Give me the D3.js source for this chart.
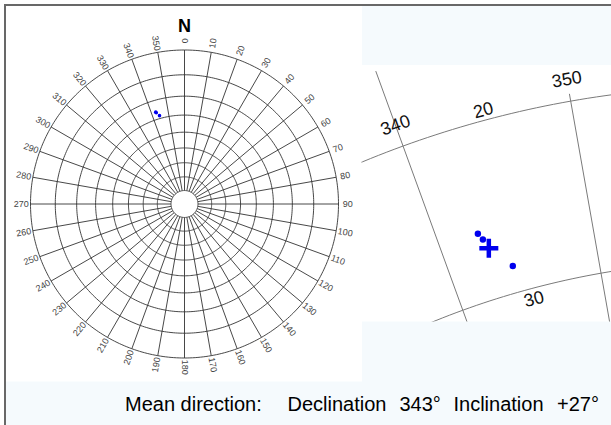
<!DOCTYPE html>
<html>
<head>
<meta charset="utf-8">
<script src="https://cdn.jsdelivr.net/npm/d3@7"></script>
<style>
  html, body { margin: 0; padding: 0; background: #fff; }
  svg { display: block; font-family: Arial, "Liberation Sans", sans-serif; }
</style>
</head>
<body>
<svg id="chart" width="611" height="425"></svg>
<script>
// Site directions (declination / inclination, degrees)
const declinations = [342.6, 342.8, 344.2];
const inclinations = [26.0, 26.4, 28.4];
const meanDeclination = 343;
const meanInclination = 27;

// Stereonet graticule
const gridDeclinations = d3.range(0, 360, 10);
const gridInclinations = d3.range(0, 90, 10);

// Enlarged view graticule
const zoomDeclinations = [340, 350];
const zoomDeclinationStart = [15.8, 19.6];
const zoomInclinations = [20, 30];

const summaryParts = ["Mean direction:", "Declination", "343\u00b0", "Inclination", "+27\u00b0"];

const rad = Math.PI / 180;
// Stereographic (Wulff) projection of a direction onto the unit disc, north up
function plane(dec, inc) {
  const r = Math.tan((90 - inc) / 2 * rad);
  return [r * Math.sin(dec * rad), -r * Math.cos(dec * rad)];
}

const svg = d3.select("#chart");
const blue = "#0000ee";

// backgrounds and frame
svg.append("rect").attr("x", 0).attr("y", 0).attr("width", 611).attr("height", 425).attr("fill", "#fff");
svg.append("rect").attr("x", 6).attr("y", 6).attr("width", 605).attr("height", 419).attr("fill", "#f5fafd");
svg.append("rect").attr("x", 6).attr("y", 6).attr("width", 356).attr("height", 375.5).attr("fill", "#fff");
svg.append("rect").attr("x", 362).attr("y", 65).attr("width", 249).attr("height", 256.5).attr("fill", "#fff");
svg.append("path").attr("d", "M5,425V5H611").attr("fill", "none").attr("stroke", "#686868").attr("stroke-width", 2);

// ---------- full stereonet ----------
const xL = d3.scaleLinear().domain([-1, 1]).range([30.5, 338.5]);
const yL = d3.scaleLinear().domain([-1, 1]).range([50, 358]);
const lineL = d3.line().x(d => xL(d[0])).y(d => yL(d[1]));

const net = svg.append("g");
net.selectAll("path.circle").data(gridInclinations).join("path")
  .attr("class", "circle")
  .attr("d", inc => lineL(d3.range(0, 361, 1).map(dec => plane(dec, inc))))
  .attr("fill", "none").attr("stroke", "#333").attr("stroke-width", 0.9);
net.selectAll("path.spoke").data(gridDeclinations).join("path")
  .attr("class", "spoke")
  .attr("d", dec => lineL([plane(dec, d3.max(gridInclinations)), plane(dec, 0)]))
  .attr("fill", "none").attr("stroke", "#333").attr("stroke-width", 0.9);

net.selectAll("text.tick").data(gridDeclinations).join("text")
  .attr("class", "tick")
  .attr("transform", dec => {
    const k = 1.06;
    const px = xL(k * Math.sin(dec * rad)), py = yL(-k * Math.cos(dec * rad));
    const rot = dec <= 180 ? dec - 90 : dec - 270;
    return `translate(${px},${py}) rotate(${rot})`;
  })
  .attr("text-anchor", "middle").attr("dominant-baseline", "central")
  .attr("font-size", 9).attr("fill", "#444")
  .text(d => d);

svg.append("text").attr("x", xL(0)).attr("y", 31.5).attr("text-anchor", "middle")
  .attr("font-size", 18).attr("font-weight", "bold").attr("fill", "#000").text("N");

net.selectAll("circle.site").data(declinations).join("circle")
  .attr("class", "site")
  .attr("cx", (d, i) => xL(plane(d, inclinations[i])[0]))
  .attr("cy", (d, i) => yL(plane(d, inclinations[i])[1]))
  .attr("r", 1.8).attr("fill", blue);

// ---------- enlarged view ----------
const xR = d3.scaleLinear().domain([0, 1]).range([743.6, 743.6 + 1422]);
const yR = d3.scaleLinear().domain([0, 1]).range([1081.7, 1081.7 + 1422]);
const lineR = d3.line().x(d => xR(d[0])).y(d => yR(d[1]));

svg.append("clipPath").attr("id", "zoomclip").append("rect")
  .attr("x", 361.5).attr("y", 65).attr("width", 250).attr("height", 256.5);
const zoom = svg.append("g").attr("clip-path", "url(#zoomclip)");

zoom.selectAll("path.arc").data(zoomInclinations).join("path")
  .attr("class", "arc")
  .attr("d", inc => lineR(d3.range(320, 371, 0.5).map(dec => plane(dec, inc))))
  .attr("fill", "none").attr("stroke", "#7a7a7a").attr("stroke-width", 1);
zoom.selectAll("path.meridian").data(zoomDeclinations).join("path")
  .attr("class", "meridian")
  .attr("d", (dec, i) => lineR([plane(dec, zoomDeclinationStart[i]), plane(dec, 45)]))
  .attr("fill", "none").attr("stroke", "#7a7a7a").attr("stroke-width", 1);

zoom.selectAll("text.dec").data(zoomDeclinations).join("text")
  .attr("class", "dec")
  .attr("transform", dec => {
    const p = plane(dec, 18.8);
    return `translate(${xR(p[0])},${yR(p[1])}) rotate(${dec - 360})`;
  })
  .attr("text-anchor", "middle").attr("dominant-baseline", "central")
  .attr("font-size", 18).attr("fill", "#111").text(d => d);

const incLabelShift = [-0.55, 0.64];
zoom.selectAll("text.inc").data(zoomInclinations).join("text")
  .attr("class", "inc")
  .attr("transform", (inc, i) => {
    const p = plane(345, inc + incLabelShift[i]);
    return `translate(${xR(p[0])},${yR(p[1])}) rotate(-15)`;
  })
  .attr("text-anchor", "middle").attr("dominant-baseline", "central")
  .attr("font-size", 18).attr("fill", "#111").text(d => d);

zoom.selectAll("circle.site").data(declinations).join("circle")
  .attr("class", "site")
  .attr("cx", (d, i) => xR(plane(d, inclinations[i])[0]))
  .attr("cy", (d, i) => yR(plane(d, inclinations[i])[1]))
  .attr("r", 3.2).attr("fill", blue);

const m = plane(meanDeclination, meanInclination);
const mx = xR(m[0]), my = yR(m[1]);
zoom.append("path")
  .attr("d", `M${mx - 9.5},${my}H${mx + 9.5}M${mx},${my - 9.5}V${my + 9.5}`)
  .attr("stroke", blue).attr("stroke-width", 4.5).attr("fill", "none");

// ---------- summary line ----------
const summaryX = [125, 287.5, 399.5, 453.5, 557];
svg.selectAll("text.summary").data(summaryParts).join("text")
  .attr("class", "summary")
  .attr("x", (d, i) => summaryX[i]).attr("y", 411)
  .attr("font-size", 20).attr("fill", "#000").text(d => d);
</script>
</body>
</html>
